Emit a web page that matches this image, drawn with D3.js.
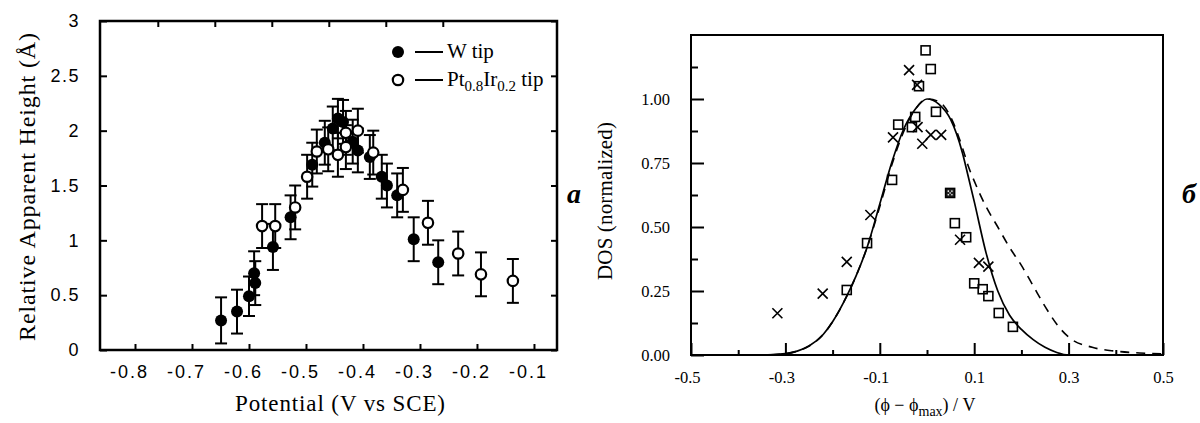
<!DOCTYPE html>
<html>
<head>
<meta charset="utf-8">
<script src="https://cdn.jsdelivr.net/npm/d3@7"></script>
<style>
  html, body { margin: 0; padding: 0; background: #fff; }
  svg { display: block; }
</style>
</head>
<body>
<svg id="fig" width="1200" height="423"></svg>
<script>
// ---------- Panel (а): apparent height vs electrode potential ----------
const wTipX   = [-0.649, -0.621, -0.600, -0.591, -0.589, -0.558, -0.527, -0.489, -0.467, -0.453,
                 -0.444, -0.435, -0.418, -0.409, -0.388, -0.367, -0.358, -0.340, -0.311, -0.268];
const wTipY   = [0.27, 0.35, 0.49, 0.70, 0.61, 0.94, 1.21, 1.69, 1.89, 2.02,
                 2.11, 2.08, 1.90, 1.82, 1.76, 1.58, 1.50, 1.41, 1.01, 0.80];
const wTipErr = [0.21, 0.20, 0.18, 0.20, 0.20, 0.21, 0.20, 0.20, 0.20, 0.20,
                 0.18, 0.20, 0.20, 0.20, 0.20, 0.20, 0.20, 0.20, 0.20, 0.20];

const ptTipX   = [-0.577, -0.554, -0.519, -0.498, -0.481, -0.461, -0.444, -0.430, -0.430, -0.409,
                  -0.382, -0.330, -0.286, -0.233, -0.193, -0.137];
const ptTipY   = [1.13, 1.13, 1.30, 1.58, 1.81, 1.83, 1.78, 1.98, 1.85, 2.00,
                  1.80, 1.46, 1.16, 0.88, 0.69, 0.63];
const ptTipErr = [0.20, 0.20, 0.20, 0.20, 0.20, 0.20, 0.20, 0.20, 0.20, 0.20,
                  0.20, 0.20, 0.20, 0.20, 0.20, 0.20];

const aXTicks    = [-0.8, -0.7, -0.6, -0.5, -0.4, -0.3, -0.2, -0.1];
const aXTopTicks = [-0.76, -0.66, -0.56, -0.46, -0.36, -0.26];
const aYTicks    = [0, 0.5, 1, 1.5, 2, 2.5, 3];

// ---------- Panel (б): normalized DOS ----------
const curveX      = [-0.5, -0.4, -0.35, -0.3, -0.275, -0.25, -0.22, -0.2, -0.17, -0.15, -0.127, -0.1,
                     -0.075, -0.05, -0.025, 0.0, 0.025, 0.05, 0.075, 0.087, 0.1, 0.125, 0.15, 0.175,
                     0.2, 0.225, 0.25, 0.275, 0.3, 0.35, 0.4, 0.45, 0.5];
const solidDOS    = [0, 0, 0, 0.005, 0.015, 0.035, 0.08, 0.13, 0.23, 0.31, 0.42, 0.59,
                     0.75, 0.88, 0.96, 1.0, 0.98, 0.92, 0.79, 0.70, 0.60, 0.40, 0.25, 0.155,
                     0.10, 0.06, 0.03, 0.01, 0.0, 0, 0, 0, 0];
const dashedDOS   = [0, 0, 0, 0.005, 0.015, 0.035, 0.08, 0.13, 0.23, 0.31, 0.42, 0.58,
                     0.74, 0.87, 0.96, 1.0, 0.99, 0.93, 0.81, 0.74, 0.68, 0.58, 0.50, 0.42,
                     0.35, 0.27, 0.19, 0.12, 0.07, 0.03, 0.015, 0.008, 0.005];

const squareX = [-0.170, -0.127, -0.074, -0.061, -0.032, -0.025, -0.017, -0.003, 0.008, 0.019,
                 0.059, 0.083, 0.100, 0.118, 0.130, 0.152, 0.182];
const squareY = [0.254, 0.437, 0.684, 0.900, 0.890, 0.930, 1.050, 1.190, 1.117, 0.950,
                 0.515, 0.460, 0.280, 0.257, 0.230, 0.164, 0.110];
const dottedSquareX = [0.049];
const dottedSquareY = [0.633];

const crossX = [-0.317, -0.221, -0.170, -0.120, -0.072, -0.038, -0.021, -0.020, -0.010, 0.008,
                0.030, 0.070, 0.110, 0.130];
const crossY = [0.163, 0.240, 0.364, 0.547, 0.850, 1.113, 1.055, 0.890, 0.825, 0.860,
                0.860, 0.450, 0.360, 0.345];

const bXMajor = [-0.5, -0.3, -0.1, 0.1, 0.3, 0.5];
const bXMinor = [-0.4, -0.2, 0.0, 0.2, 0.4];
const bYMajor = [0, 0.25, 0.5, 0.75, 1.0];
const bYMinor = [0.125, 0.375, 0.625, 0.875, 1.125];

const svg = d3.select("#fig");
const SANS = "'Liberation Sans', Arial, sans-serif";
const SERIF = "'Liberation Serif', 'Times New Roman', serif";

// ================= Panel (а) =================
const xA = d3.scaleLinear().domain([-0.8614, -0.0596]).range([100, 557]);
const yA = d3.scaleLinear().domain([0, 3]).range([350, 21]);

const gA = svg.append("g");

function styleAxis(g, font, size, spacing) {
  g.select(".domain").remove();
  g.selectAll(".tick line").attr("stroke", "#000").attr("stroke-width", 2);
  g.selectAll(".tick text")
    .attr("fill", "#000")
    .style("font-family", font)
    .style("font-size", size + "px")
    .style("letter-spacing", spacing + "px");
}

// negative labels are centred on their digits, so the minus sign hangs left
gA.append("g").attr("transform", "translate(0,350)")
  .call(d3.axisBottom(xA).tickValues(aXTicks).tickFormat(d => String(d))
        .tickSizeInner(-6).tickSizeOuter(0).tickPadding(15))
  .call(g => styleAxis(g, SANS, 18, 2))
  .call(g => g.selectAll(".tick text").attr("dx", d => d < 0 ? -6 : 0));

gA.append("g").attr("transform", "translate(0,21)")
  .call(d3.axisTop(xA).tickValues(aXTopTicks).tickFormat("")
        .tickSizeInner(-6).tickSizeOuter(0))
  .call(g => styleAxis(g, SANS, 18, 0));

gA.append("g").attr("transform", "translate(100,0)")
  .call(d3.axisLeft(yA).tickValues(aYTicks).tickFormat(d => String(d))
        .tickSizeInner(-7).tickSizeOuter(0).tickPadding(20))
  .call(g => styleAxis(g, SANS, 18, 1.5));

gA.append("g").attr("transform", "translate(557,0)")
  .call(d3.axisRight(yA).tickValues(aYTicks).tickFormat("")
        .tickSizeInner(-6).tickSizeOuter(0))
  .call(g => styleAxis(g, SANS, 18, 0));

gA.append("rect")
  .attr("x", xA.range()[0]).attr("y", yA.range()[1])
  .attr("width", xA.range()[1] - xA.range()[0])
  .attr("height", yA.range()[0] - yA.range()[1])
  .attr("fill", "none").attr("stroke", "#000").attr("stroke-width", 2.5);

const wData  = wTipX.map((x, i) => ({x, y: wTipY[i], e: wTipErr[i]}));
const ptData = ptTipX.map((x, i) => ({x, y: ptTipY[i], e: ptTipErr[i]}));

function errorBars(g, data) {
  const cap = 6;
  const eb = g.append("g").attr("stroke", "#000").attr("stroke-width", 2);
  eb.selectAll("line.v").data(data).join("line").attr("class", "v")
    .attr("x1", d => xA(d.x)).attr("x2", d => xA(d.x))
    .attr("y1", d => yA(d.y - d.e)).attr("y2", d => yA(d.y + d.e));
  eb.selectAll("line.t").data(data).join("line").attr("class", "t")
    .attr("x1", d => xA(d.x) - cap).attr("x2", d => xA(d.x) + cap)
    .attr("y1", d => yA(d.y + d.e)).attr("y2", d => yA(d.y + d.e));
  eb.selectAll("line.b").data(data).join("line").attr("class", "b")
    .attr("x1", d => xA(d.x) - cap).attr("x2", d => xA(d.x) + cap)
    .attr("y1", d => yA(d.y - d.e)).attr("y2", d => yA(d.y - d.e));
}
errorBars(gA, wData);
errorBars(gA, ptData);

gA.append("g").selectAll("circle").data(wData).join("circle")
  .attr("cx", d => xA(d.x)).attr("cy", d => yA(d.y)).attr("r", 6)
  .attr("fill", "#000");
gA.append("g").selectAll("circle").data(ptData).join("circle")
  .attr("cx", d => xA(d.x)).attr("cy", d => yA(d.y)).attr("r", 5.2)
  .attr("fill", "#fff").attr("stroke", "#000").attr("stroke-width", 2.2);

// legend
const legA = gA.append("g").style("font-family", SERIF).style("font-size", "21px");
legA.append("circle").attr("cx", 398).attr("cy", 52).attr("r", 6).attr("fill", "#000");
legA.append("line").attr("x1", 415).attr("x2", 443).attr("y1", 52).attr("y2", 52)
  .attr("stroke", "#000").attr("stroke-width", 2);
legA.append("text").attr("x", 447).attr("y", 58).text("W tip");
legA.append("circle").attr("cx", 398).attr("cy", 80).attr("r", 5.2)
  .attr("fill", "#fff").attr("stroke", "#000").attr("stroke-width", 2.2);
legA.append("line").attr("x1", 415).attr("x2", 443).attr("y1", 80).attr("y2", 80)
  .attr("stroke", "#000").attr("stroke-width", 2);
const ptLbl = legA.append("text").attr("x", 447).attr("y", 86);
ptLbl.append("tspan").text("Pt");
ptLbl.append("tspan").attr("dy", 5).style("font-size", "15px").text("0.8");
ptLbl.append("tspan").attr("dy", -5).text("Ir");
ptLbl.append("tspan").attr("dy", 5).style("font-size", "15px").text("0.2");
ptLbl.append("tspan").attr("dy", -5).text(" tip");

// axis titles
gA.append("text")
  .attr("transform", "translate(35,187) rotate(-90)")
  .attr("text-anchor", "middle")
  .attr("textLength", 308).attr("lengthAdjust", "spacing")
  .style("font-family", SERIF).style("font-size", "24px")
  .text("Relative Apparent Height (Å)");
gA.append("text")
  .attr("x", 340).attr("y", 411).attr("text-anchor", "middle")
  .attr("textLength", 210).attr("lengthAdjust", "spacing")
  .style("font-family", SERIF).style("font-size", "23px")
  .text("Potential (V vs SCE)");

svg.append("text").attr("x", 567).attr("y", 203)
  .style("font-family", SERIF).style("font-size", "28px")
  .style("font-weight", "bold").style("font-style", "italic")
  .text("а");

// ================= Panel (б) =================
const xB = d3.scaleLinear().domain([-0.5, 0.5]).range([691, 1163]);
const yB = d3.scaleLinear().domain([0, 1.25]).range([355, 35]);
const gB = svg.append("g");

gB.append("g").attr("transform", "translate(0,355)")
  .call(d3.axisBottom(xB).tickValues(bXMajor).tickFormat(d => String(d))
        .tickSizeInner(-12).tickSizeOuter(0).tickPadding(16))
  .call(g => styleAxis(g, SERIF, 16.5, 0))
  .call(g => g.selectAll(".tick text").attr("dx", d => d < 0 ? -4 : 0));
gB.append("g").attr("transform", "translate(0,355)")
  .call(d3.axisBottom(xB).tickValues(bXMinor).tickFormat("")
        .tickSizeInner(-5).tickSizeOuter(0))
  .call(g => styleAxis(g, SERIF, 16.5, 0));
gB.append("g").attr("transform", "translate(691,0)")
  .call(d3.axisLeft(yB).tickValues(bYMajor).tickFormat(d3.format(".2f"))
        .tickSizeInner(-13).tickSizeOuter(0).tickPadding(21))
  .call(g => styleAxis(g, SERIF, 16.5, 0));
gB.append("g").attr("transform", "translate(691,0)")
  .call(d3.axisLeft(yB).tickValues(bYMinor).tickFormat("")
        .tickSizeInner(-7).tickSizeOuter(0))
  .call(g => styleAxis(g, SERIF, 16.5, 0));

gB.append("rect")
  .attr("x", xB.range()[0]).attr("y", yB.range()[1])
  .attr("width", xB.range()[1] - xB.range()[0])
  .attr("height", yB.range()[0] - yB.range()[1])
  .attr("fill", "none").attr("stroke", "#000").attr("stroke-width", 2);

const line = d3.line().x(d => xB(d[0])).y(d => yB(d[1])).curve(d3.curveMonotoneX);
gB.append("path").datum(curveX.map((x, i) => [x, dashedDOS[i]]))
  .attr("d", line).attr("fill", "none").attr("stroke", "#000")
  .attr("stroke-width", 1.6).attr("stroke-dasharray", "9,7");
gB.append("path").datum(curveX.map((x, i) => [x, solidDOS[i]]))
  .attr("d", line).attr("fill", "none").attr("stroke", "#000")
  .attr("stroke-width", 1.7);

const sq = 9;
gB.append("g").selectAll("rect").data(squareX.map((x, i) => [x, squareY[i]])).join("rect")
  .attr("x", d => xB(d[0]) - sq / 2).attr("y", d => yB(d[1]) - sq / 2)
  .attr("width", sq).attr("height", sq)
  .attr("fill", "#fff").attr("fill-opacity", 0.01)
  .attr("stroke", "#000").attr("stroke-width", 1.6);

const dotted = gB.append("g").selectAll("g")
  .data(dottedSquareX.map((x, i) => [x, dottedSquareY[i]])).join("g")
  .attr("transform", d => `translate(${xB(d[0])},${yB(d[1])})`);
dotted.append("rect").attr("x", -sq / 2).attr("y", -sq / 2).attr("width", sq).attr("height", sq)
  .attr("fill", "#222").attr("stroke", "#000").attr("stroke-width", 1.6);
dotted.selectAll("circle").data([[-1.8, -1.8], [1.8, -1.8], [-1.8, 1.8], [1.8, 1.8], [0, 0]])
  .join("circle").attr("cx", d => d[0]).attr("cy", d => d[1]).attr("r", 0.8).attr("fill", "#fff");

const cr = 5;
gB.append("g").attr("stroke", "#000").attr("stroke-width", 1.6)
  .selectAll("path").data(crossX.map((x, i) => [x, crossY[i]])).join("path")
  .attr("d", d => {
    const cx = xB(d[0]), cy = yB(d[1]);
    return `M${cx - cr},${cy - cr}L${cx + cr},${cy + cr}M${cx - cr},${cy + cr}L${cx + cr},${cy - cr}`;
  });

gB.append("text")
  .attr("transform", "translate(612,201) rotate(-90)")
  .attr("text-anchor", "middle")
  .attr("textLength", 158).attr("lengthAdjust", "spacing")
  .style("font-family", SERIF).style("font-size", "21px")
  .text("DOS (normalized)");

const xt = gB.append("text").attr("x", 925).attr("y", 411).attr("text-anchor", "middle")
  .style("font-family", SERIF).style("font-size", "18px");
xt.append("tspan").text("(ϕ − ϕ");
xt.append("tspan").attr("dy", 5).style("font-size", "14px").text("max");
xt.append("tspan").attr("dy", -5).text(") / V");

svg.append("text").attr("x", 1182).attr("y", 203)
  .style("font-family", SERIF).style("font-size", "28px")
  .style("font-weight", "bold").style("font-style", "italic")
  .text("б");
</script>
</body>
</html>
